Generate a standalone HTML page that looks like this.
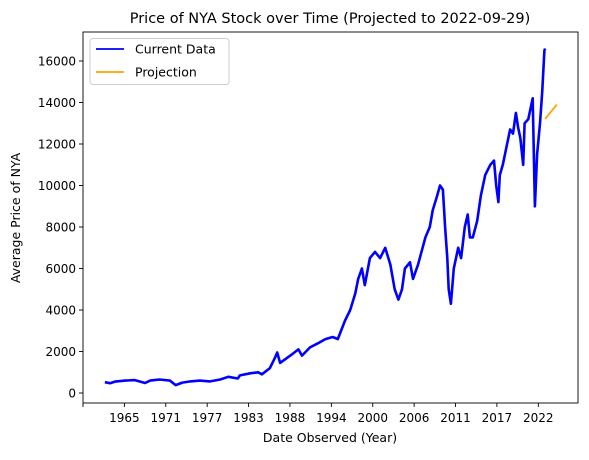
<!DOCTYPE html>
<html><head><meta charset="utf-8"><style>
body{margin:0;background:#fff;}
svg text{font-family:"DejaVu Sans","Liberation Sans",sans-serif;fill:#000;}
</style></head><body>
<svg id="chart" width="589" height="455" xmlns="http://www.w3.org/2000/svg"></svg>
<script>
const years=[1962.6,1963.3,1964.0,1965.4,1966.7,1968.1,1968.8,1970.1,1971.5,1972.3,1973.2,1974.3,1975.6,1977.0,1978.4,1979.5,1980.8,1981.1,1982.5,1983.6,1984.1,1985.2,1985.9,1986.2,1986.6,1988.0,1989.1,1989.6,1990.7,1991.8,1992.8,1993.8,1994.5,1995.5,1996.2,1996.9,1997.3,1997.8,1998.2,1998.9,1999.6,2000.3,2001.0,2001.7,2002.3,2002.8,2003.3,2003.7,2004.4,2004.8,2005.5,2006.5,2007.1,2007.5,2008.1,2008.5,2008.9,2009.2,2009.5,2009.7,2010.0,2010.4,2011.0,2011.4,2011.9,2012.3,2012.6,2013.0,2013.6,2014.1,2014.7,2015.4,2015.9,2016.2,2016.5,2016.7,2017.1,2017.7,2018.1,2018.5,2018.9,2019.2,2019.5,2019.9,2020.1,2020.6,2021.2,2021.5,2021.8,2022.2,2022.5,2022.8,2022.9];
const prices=[520,470,550,600,620,480,600,650,600,380,500,560,600,560,650,780,700,850,950,1000,900,1200,1700,1950,1450,1800,2100,1800,2200,2400,2600,2700,2600,3500,4000,4800,5500,6000,5200,6500,6800,6500,7000,6200,5000,4500,5000,6000,6300,5500,6200,7500,8000,8800,9500,10000,9800,8000,6500,5000,4300,6000,7000,6500,8000,8600,7500,7500,8300,9500,10500,11000,11200,10000,9200,10500,11000,12000,12700,12500,13500,12800,12300,11000,13000,13200,14200,9000,11500,13000,14500,16500,16600];
const projYears=[2022.9,2024.5];
const projPrices=[13200,13900];
const xTickVals=[1959.6,1965.27,1970.94,1976.61,1982.28,1987.95,1993.62,1999.29,2004.96,2010.63,2016.3,2021.97];
const xTickLabels=["","1965","1971","1977","1983","1988","1994","2000","2006","2011","2017","2022"];
const yTicks=[0,2000,4000,6000,8000,10000,12000,14000,16000];

const L=83,R=578,T=32,B=403;
const X=y=>L+(y-1959.6)*7.3;
const Y=v=>393-v*0.02075;
const svg=document.getElementById('chart');
const NS='http://www.w3.org/2000/svg';
function mk(tag,attrs,parent){const e=document.createElementNS(NS,tag);for(const k in attrs)e.setAttribute(k,attrs[k]);(parent||svg).appendChild(e);return e;}

const series=mk('polyline',{points:years.map((y,i)=>X(y).toFixed(1)+','+Y(prices[i]).toFixed(1)).join(' '),fill:'none',stroke:'#0000ff','stroke-width':2.6,'stroke-linejoin':'round'});


const proj=mk('polyline',{points:projYears.map((y,i)=>X(y).toFixed(1)+','+Y(projPrices[i]).toFixed(1)).join(' '),fill:'none',stroke:'orange','stroke-width':1.8});



const frame=mk('rect',{x:L,y:T,width:R-L,height:B-T,fill:'none',stroke:'#000','stroke-width':0.9});



xTickVals.forEach((v,i)=>{
  const x=X(v);
  const t=mk('line',{x1:x,x2:x,y1:B,y2:B+4,stroke:'#000','stroke-width':0.9});
  
  
  const tx=mk('text',{x:x,y:B+19,'text-anchor':'middle','font-size':12});
  tx.textContent=xTickLabels[i];
  
  
});
yTicks.forEach(v=>{
  const y=Y(v);
  const t=mk('line',{x1:L-4,x2:L,y1:y,y2:y,stroke:'#000','stroke-width':0.9});
  
  
  const tx=mk('text',{x:L-7,y:y+4.5,'text-anchor':'end','font-size':12});
  tx.textContent=v;
  
  
});
const title=mk('text',{x:330,y:23,'text-anchor':'middle','font-size':14.5});
title.textContent='Price of NYA Stock over Time (Projected to 2022-09-29)';


const xt=mk('text',{x:330,y:442,'text-anchor':'middle','font-size':12.5});
xt.textContent='Date Observed (Year)';


const yt=mk('text',{x:0,y:0,'text-anchor':'middle','font-size':12.5,transform:'translate(20,218) rotate(-90)'});
yt.textContent='Average Price of NYA';



const lg=mk('g',{});


mk('rect',{x:90,y:38.5,width:139,height:46,rx:3,fill:'#fff',stroke:'#ccc','stroke-width':1},lg);
const e1=mk('g',{},lg);


mk('line',{x1:96,x2:124,y1:49,y2:49,stroke:'#0000ff','stroke-width':1.8},e1);
mk('text',{x:135,y:53.5,'font-size':12.5},e1).textContent='Current Data';
const e2=mk('g',{},lg);


mk('line',{x1:96,x2:124,y1:72,y2:72,stroke:'orange','stroke-width':1.8},e2);
mk('text',{x:135,y:76.5,'font-size':12.5},e2).textContent='Projection';
</script>
</body></html>
